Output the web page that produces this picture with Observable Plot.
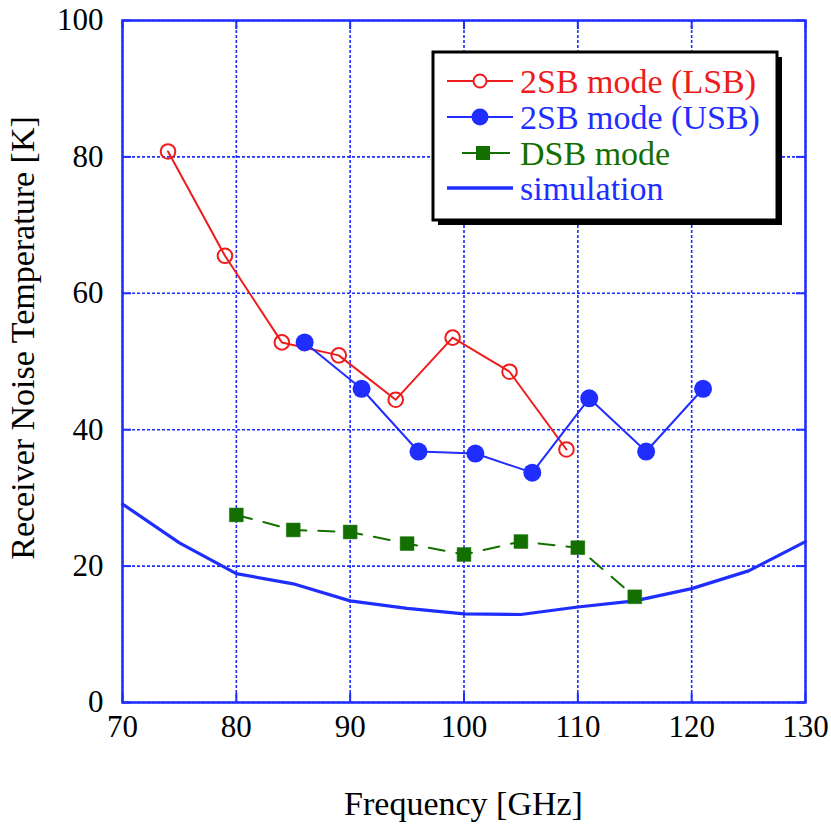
<!DOCTYPE html>
<html>
<head>
<meta charset="utf-8">
<script src="https://cdn.jsdelivr.net/npm/d3@7"></script>
<script src="https://cdn.jsdelivr.net/npm/@observablehq/plot@0.6"></script>
<style>
  html, body { margin: 0; padding: 0; background: #fff; }
  svg { display: block; }
</style>
</head>
<body>
<div id="chart"></div>
<script>
// ---- data ----
const lsbFreq = [74, 79, 84, 89, 94, 99, 104, 109];
const lsbTemp = [80.8, 65.5, 52.8, 50.9, 44.4, 53.5, 48.5, 37.1];

const usbFreq = [86, 91, 96, 101, 106, 111, 116, 121];
const usbTemp = [52.8, 46.0, 36.8, 36.5, 33.7, 44.6, 36.8, 46.0];

const dsbFreq = [80, 85, 90, 95, 100, 105, 110, 115];
const dsbTemp = [27.5, 25.3, 25.0, 23.3, 21.7, 23.6, 22.7, 15.5];

const simFreq = [70, 75, 80, 85, 90, 95, 100, 105, 110, 115, 120, 125, 130];
const simTemp = [29.1, 23.4, 18.9, 17.4, 14.9, 13.8, 13.0, 12.9, 14.0, 14.9, 16.7, 19.3, 23.6];

const xTicks = [70, 80, 90, 100, 110, 120, 130];
const yTicks = [0, 20, 40, 60, 80, 100];

const seriesNames = ["2SB mode (LSB)", "2SB mode (USB)", "DSB mode", "simulation"];
const xTitle = "Frequency [GHz]";
const yTitle = "Receiver Noise Temperature [K]";

// ---- styles ----
const RED = "#ee1c1c";
const BLUE = "#1f2eff";
const GREEN = "#137000";
const FONT = "'Liberation Serif', 'Times New Roman', serif";

const zip = (xs, ys) => xs.map((x, i) => ({x, y: ys[i]}));
const lsb = zip(lsbFreq, lsbTemp);
const usb = zip(usbFreq, usbTemp);
const dsb = zip(dsbFreq, dsbTemp);
const sim = zip(simFreq, simTemp);

const W = 831, H = 825;
const mL = 122, mR = 26, mT = 20, mB = 123;

const svg = Plot.plot({
  width: W,
  height: H,
  marginLeft: mL,
  marginRight: mR,
  marginTop: mT,
  marginBottom: mB,
  style: {fontFamily: FONT, background: "#fff", color: "#000"},
  x: {domain: [70, 130]},
  y: {domain: [0, 100]},
  marks: [
    Plot.gridX(xTicks, {stroke: BLUE, strokeOpacity: 1, strokeWidth: 1.6, strokeDasharray: "3,2"}),
    Plot.gridY(yTicks, {stroke: BLUE, strokeOpacity: 1, strokeWidth: 1.6, strokeDasharray: "3,2"}),
    Plot.tickX(xTicks, {x: d => d, stroke: BLUE, strokeWidth: 2, insetTop: H - mT - mB - 9}),
    Plot.tickX(xTicks, {x: d => d, stroke: BLUE, strokeWidth: 2, insetBottom: H - mT - mB - 9}),
    Plot.tickY(yTicks, {y: d => d, stroke: BLUE, strokeWidth: 2, insetRight: W - mL - mR - 9}),
    Plot.tickY(yTicks, {y: d => d, stroke: BLUE, strokeWidth: 2, insetLeft: W - mL - mR - 9}),
    Plot.frame({stroke: BLUE, strokeWidth: 2.5}),
    // simulation
    Plot.line(sim, {x: "x", y: "y", stroke: BLUE, strokeWidth: 3.2}),
    // DSB
    Plot.line(dsb, {x: "x", y: "y", stroke: GREEN, strokeWidth: 2, strokeDasharray: "16,12"}),
    Plot.dot(dsb, {x: "x", y: "y", symbol: "square", r: 7.8, fill: GREEN, stroke: GREEN, strokeWidth: 0.5}),
    // LSB
    Plot.line(lsb, {x: "x", y: "y", stroke: RED, strokeWidth: 2}),
    Plot.dot(lsb, {x: "x", y: "y", r: 7.3, fill: "none", stroke: RED, strokeWidth: 2}),
    // USB
    Plot.line(usb, {x: "x", y: "y", stroke: BLUE, strokeWidth: 2}),
    Plot.dot(usb, {x: "x", y: "y", r: 9, fill: BLUE, stroke: "none"}),
    // axes
    Plot.axisX(xTicks, {tickSize: 0, tickPadding: 12, fontSize: 31, label: null, fill: "#000"}),
    Plot.axisY(yTicks, {tickSize: 0, tickPadding: 19, fontSize: 31, label: null, fill: "#000"})
  ]
});

document.getElementById("chart").appendChild(svg);

// ---- axis titles ----
const s = d3.select(svg);
s.append("text")
  .attr("x", (mL + W - mR) / 2)
  .attr("y", 815)
  .attr("text-anchor", "middle")
  .style("font-family", FONT)
  .style("font-size", "34px")
  .attr("fill", "#000")
  .text(xTitle);

s.append("text")
  .attr("transform", "translate(34,338) rotate(-90)")
  .attr("text-anchor", "middle")
  .style("font-family", FONT)
  .style("font-size", "34px")
  .attr("fill", "#000")
  .text(yTitle);

// ---- legend ----
const lg = s.append("g");
const bx = 433, by = 52, bw = 344, bh = 168;
lg.append("rect").attr("x", bx + 5).attr("y", by + 5).attr("width", bw).attr("height", bh).attr("fill", "#000");
lg.append("rect").attr("x", bx).attr("y", by).attr("width", bw).attr("height", bh)
  .attr("fill", "#fff").attr("stroke", "#000").attr("stroke-width", 3);

const rows = [
  {name: seriesNames[0], color: RED, cy: 81, base: 93, kind: "openCircle"},
  {name: seriesNames[1], color: BLUE, cy: 117, base: 129, kind: "filledCircle"},
  {name: seriesNames[2], color: GREEN, cy: 153, base: 165, kind: "square"},
  {name: seriesNames[3], color: BLUE, cy: 188, base: 200, kind: "line"}
];
rows.forEach(r => {
  if (r.kind === "square") {
    lg.append("line").attr("x1", 462).attr("x2", 510).attr("y1", r.cy).attr("y2", r.cy)
      .attr("stroke", r.color).attr("stroke-width", 2);
    lg.append("rect").attr("x", 476).attr("y", r.cy - 7).attr("width", 14).attr("height", 14).attr("fill", r.color);
  } else if (r.kind === "line") {
    lg.append("line").attr("x1", 447).attr("x2", 513).attr("y1", r.cy).attr("y2", r.cy)
      .attr("stroke", r.color).attr("stroke-width", 3.5);
  } else {
    lg.append("line").attr("x1", 447).attr("x2", 513).attr("y1", r.cy).attr("y2", r.cy)
      .attr("stroke", r.color).attr("stroke-width", 2);
    if (r.kind === "openCircle") {
      lg.append("circle").attr("cx", 480).attr("cy", r.cy).attr("r", 6.5)
        .attr("fill", "#fff").attr("stroke", r.color).attr("stroke-width", 2);
    } else {
      lg.append("circle").attr("cx", 480).attr("cy", r.cy).attr("r", 8.5).attr("fill", r.color);
    }
  }
  lg.append("text").attr("x", 520).attr("y", r.base)
    .attr("text-anchor", "start")
    .style("font-family", FONT).style("font-size", "34px")
    .attr("fill", r.color).text(r.name);
});
</script>
</body>
</html>
